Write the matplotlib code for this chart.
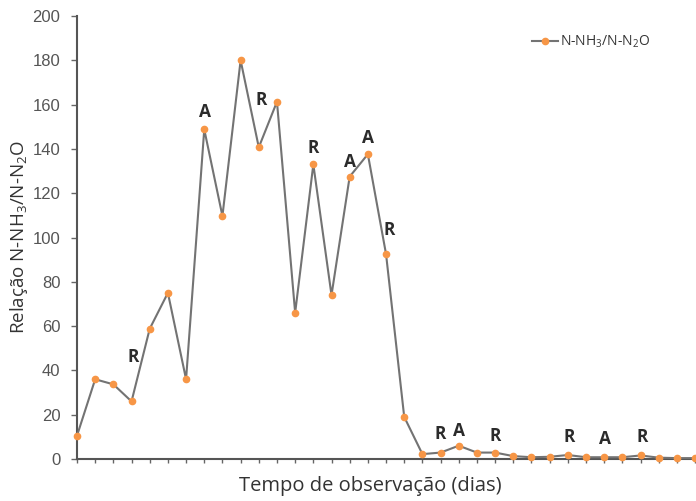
import matplotlib
matplotlib.use("Agg")
import matplotlib.pyplot as plt
import numpy as np

# Data
ratio = [10.5, 36, 33.7, 26, 58.8, 75, 36, 148.8, 109.7, 180,
         140.7, 161.3, 66, 133, 74, 127.5, 137.6, 92.5, 19, 2.2,
         2.9, 6, 2.9, 2.9, 1.3, 0.8, 1.0, 1.8, 0.8, 0.8,
         0.8, 1.6, 0.6, 0.4, 0.4]
days = list(range(len(ratio)))

# Annotation labels (letter, x index, y value)
ann_text = ["R", "A", "R", "R", "A", "A", "R", "R", "A", "R", "R", "A", "R"]
ann_x = [3.08, 7.04, 10.12, 12.98, 15.02, 16.0, 17.2, 19.97, 21.0, 23.0, 27.06, 29.04, 31.08]
ann_y = [46, 156.7, 162, 140.4, 134, 145, 103.4, 11.3, 12.6, 10.4, 9.9, 9.0, 9.9]

yticks = list(range(0, 201, 20))

plt.rcParams['font.family'] = ['Open Sans', 'DejaVu Sans']
plt.rcParams['mathtext.default'] = 'regular'

fig = plt.figure(figsize=(6.96, 5.01), dpi=100)
ax = fig.add_axes([77/696, 1-459/501, 1-77/696, (459-16)/501])

line_col = "#737373"
mark_col = "#f79646"
ax.plot(days, ratio, color=line_col, lw=1.5, marker='o', markersize=4.5,
        markerfacecolor=mark_col, markeredgecolor=mark_col, clip_on=False,
        label="N-NH$_3$/N-N$_2$O", zorder=3)

for t, x, y in zip(ann_text, ann_x, ann_y):
    ax.text(x, y, t, ha='center', va='center', fontsize=12.5, fontweight='bold',
            color='#2b2b2b')

ax.set_xlim(0, 34.05)
ax.set_ylim(0, 200)
ax.set_yticks(yticks)
ax.set_xticks(days)
ax.set_xticklabels([])
ax.tick_params(axis='x', length=3, width=1, color='#666666', direction='out')
ax.tick_params(axis='y', length=4, width=1, color='#666666', labelsize=12,
               labelcolor='#555555', pad=8)
for lbl in ax.get_yticklabels():
    lbl.set_family('Liberation Sans')
for s in ['top', 'right']:
    ax.spines[s].set_visible(False)
for s in ['left', 'bottom']:
    ax.spines[s].set_color('#555555')
    ax.spines[s].set_linewidth(1.5)

ax.set_ylabel("Relação N-NH$_3$/N-N$_2$O", fontsize=13.5, color='#333333', labelpad=2)
fig.text(370/696, 1-486/501, "Tempo de observação (dias)", fontsize=14.5,
         color='#333333', ha='center', va='center')

leg = ax.legend(loc='center left', bbox_to_anchor=(532/696, 1-42/501),
                bbox_transform=fig.transFigure, frameon=False, fontsize=10,
                handlelength=1.9, handletextpad=0.1, borderpad=0, borderaxespad=0)
for t in leg.get_texts():
    t.set_color('#333333')

fig.savefig("out.png", dpi=100)
